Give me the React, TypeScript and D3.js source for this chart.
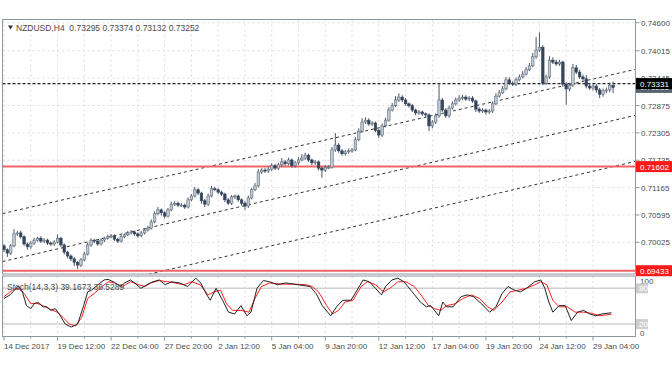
import React from "react";
import * as d3 from "d3";

// chart data
const symbolTitle = "NZDUSD,H4";
const lastOHLC = [0.73295, 0.73374, 0.73132, 0.73252];
const firstOpen = 0.6995;

// H4 closes, one per bar
const closes = [
  0.6987, 0.698, 0.6995, 0.702, 0.7022, 0.7014, 0.6999, 0.6993, 0.7001, 0.7007,
  0.7011, 0.7005, 0.7007, 0.7001, 0.6999, 0.7003, 0.7011, 0.6997, 0.6982, 0.6974,
  0.6968, 0.6961, 0.6955, 0.6966, 0.6978, 0.6997, 0.7007, 0.7005, 0.6999, 0.7007,
  0.7011, 0.7014, 0.7016, 0.7009, 0.7005, 0.7014, 0.7018, 0.7022, 0.7024, 0.702,
  0.7016, 0.7022, 0.7028, 0.7032, 0.7045, 0.7062, 0.707, 0.7064, 0.7057, 0.707,
  0.7082, 0.7084, 0.708, 0.708, 0.7076, 0.7091, 0.7099, 0.7112, 0.7105, 0.7089,
  0.7082, 0.7099, 0.7114, 0.7112, 0.7107, 0.7103, 0.7091, 0.7084, 0.7097, 0.7099,
  0.7091, 0.7084, 0.7078, 0.7095, 0.7112, 0.712, 0.7149, 0.7153, 0.7151, 0.7155,
  0.7162, 0.7157, 0.7164, 0.717, 0.7166, 0.7174, 0.7162, 0.7168, 0.7174, 0.7178,
  0.7184, 0.7174, 0.7168, 0.717, 0.7157, 0.7153, 0.7159, 0.7159, 0.7195, 0.7205,
  0.7193, 0.7187, 0.7191, 0.7193, 0.7195, 0.7216, 0.7234, 0.7253, 0.7257, 0.7249,
  0.7251, 0.7236, 0.7226, 0.7245, 0.7257, 0.7278, 0.7287, 0.7299, 0.7305, 0.7299,
  0.7291, 0.7287, 0.7278, 0.7272, 0.7274, 0.727, 0.7268, 0.7245, 0.7253, 0.7266,
  0.7299, 0.7278, 0.7266, 0.7282, 0.7291, 0.7299, 0.7303, 0.7305, 0.7301, 0.7303,
  0.7297, 0.728, 0.7276, 0.7278, 0.7274, 0.7276, 0.7291, 0.7307, 0.7314, 0.7322,
  0.7341, 0.7334, 0.7332, 0.7341, 0.7347, 0.7353, 0.7362, 0.737, 0.7389, 0.7403,
  0.7409, 0.7334, 0.7347, 0.7382, 0.7378, 0.7374, 0.7378, 0.7332, 0.7322, 0.733,
  0.7366, 0.7357, 0.7347, 0.7343, 0.7328, 0.7324, 0.7328, 0.732, 0.7311, 0.7318,
  0.732, 0.73295, 0.73252,
];

// upper / lower shadows in pips beyond the body
const wickHi = [
  4, 3, 4, 10, 4, 5, 3, 3, 4, 5, 3, 4, 4, 3, 3, 4, 8, 3, 3, 3,
  3, 4, 3, 4, 5, 5, 4, 3, 3, 4, 3, 4, 4, 3, 3, 4, 3, 4, 4, 3,
  3, 4, 4, 5, 5, 5, 6, 3, 3, 4, 5, 4, 3, 4, 3, 5, 4, 6, 3, 3,
  4, 5, 6, 4, 3, 3, 3, 4, 4, 3, 3, 3, 4, 5, 4, 6, 6, 4, 4, 4,
  5, 4, 4, 8, 4, 5, 3, 4, 6, 8, 5, 3, 3, 4, 3, 3, 4, 4, 6, 25,
  4, 4, 4, 5, 4, 6, 6, 8, 6, 4, 4, 3, 3, 5, 5, 6, 6, 8, 8, 4,
  4, 3, 4, 3, 4, 3, 3, 3, 4, 5, 35, 4, 4, 5, 5, 5, 6, 5, 4, 4,
  4, 3, 4, 4, 3, 4, 5, 6, 6, 6, 6, 5, 4, 5, 5, 6, 6, 6, 8, 27,
  31, 4, 5, 8, 6, 5, 5, 3, 4, 5, 8, 6, 5, 5, 8, 5, 4, 4, 4, 5,
  5, 6, 8,
];
const wickLo = [
  5, 8, 4, 3, 4, 4, 4, 6, 4, 4, 3, 4, 4, 4, 4, 4, 3, 4, 5, 5,
  5, 8, 8, 4, 3, 3, 4, 4, 4, 3, 4, 3, 3, 4, 4, 3, 3, 3, 3, 4,
  4, 3, 3, 3, 3, 3, 3, 6, 5, 3, 3, 4, 4, 4, 4, 3, 3, 3, 4, 6,
  6, 4, 3, 3, 4, 4, 5, 4, 4, 4, 4, 5, 8, 4, 3, 3, 3, 4, 4, 4,
  4, 4, 4, 4, 4, 3, 4, 4, 4, 3, 4, 4, 5, 4, 5, 16, 4, 4, 3, 4,
  4, 4, 4, 4, 4, 3, 3, 3, 4, 4, 4, 4, 6, 4, 3, 3, 3, 3, 4, 4,
  4, 4, 4, 5, 4, 4, 4, 11, 5, 4, 4, 4, 4, 4, 3, 4, 4, 4, 4, 4,
  4, 6, 4, 4, 5, 4, 4, 3, 3, 3, 3, 4, 4, 4, 3, 3, 3, 3, 3, 4,
  4, 4, 4, 4, 4, 4, 4, 6, 33, 5, 4, 4, 4, 4, 5, 4, 5, 6, 8, 5,
  5, 5, 12,
];

const priceTicks = [0.746, 0.74015, 0.73445, 0.72875, 0.72305, 0.71735, 0.71165, 0.70595, 0.70025];
const timeLabels = [
  "14 Dec 2017", "19 Dec 12:00", "22 Dec 04:00", "27 Dec 20:00", "2 Jan 12:00", "5 Jan 04:00",
  "9 Jan 20:00", "12 Jan 12:00", "17 Jan 04:00", "19 Jan 20:00", "24 Jan 12:00", "29 Jan 04:00",
];
const barsPerLabel = 16;

const hLine = 0.73331;
const bidPrice = 0.73252;
const redLevels = [0.71602, 0.69433];

// trend channel: [bar, price] anchors
const channel = [
  [[0, 0.7063], [180, 0.7349]],
  [[0, 0.6963], [180, 0.7253]],
  [[0, 0.6866], [180, 0.7157]],
];

// Stochastic(14,3,3): [bar, value]
const stochK = [
  [0, 63], [1.8, 69], [4.3, 84], [5.5, 74], [6.7, 51], [8, 46], [9.2, 55], [10.4, 56], [11.6, 49],
  [12.8, 49], [14, 43], [15.3, 46], [16.5, 37], [18.3, 20], [20.1, 15], [22, 20], [23.8, 51], [25, 74],
  [26.2, 77], [28.1, 86], [29.9, 94], [31.1, 95], [33, 90], [34.8, 83], [36, 89], [37.8, 94], [39.7, 86],
  [40.9, 80], [42.7, 86], [44.5, 91], [46.4, 94], [48.2, 86], [50, 91], [52.5, 89], [54.9, 83], [57.3, 97],
  [58.8, 89], [60.4, 71], [61.6, 60], [63.4, 80], [65.3, 60], [67.1, 40], [68.9, 37], [70.8, 51], [72.6, 34],
  [73.8, 40], [75.6, 80], [77.5, 93], [79.3, 91], [81.7, 86], [84.2, 89], [87.8, 86], [91.5, 83], [93.3, 71],
  [95.1, 51], [97.6, 34], [99.4, 49], [101.2, 60], [103.7, 60], [105.5, 77], [107.3, 94], [109.2, 91],
  [111, 80], [112.8, 69], [114, 83], [115.9, 94], [117.7, 97], [119.5, 91], [122, 74], [124.4, 57],
  [126.2, 49], [127.5, 51], [129.9, 34], [131.1, 57], [132.3, 49], [134.2, 49], [136.6, 66], [138.4, 69],
  [140.3, 66], [142.7, 54], [145.1, 40], [147, 49], [148.8, 71], [150.6, 83], [152.5, 77], [154.3, 74],
  [156.1, 80], [158.6, 91], [160.4, 94], [161.6, 80], [162.8, 57], [164, 40], [165.9, 51], [167.7, 51],
  [169.5, 26], [171.4, 40], [173.2, 43], [175, 37], [176.8, 34], [178.7, 37], [181.5, 39],
];
const stochD = [
  [0, 66], [2.5, 77], [4.3, 80], [6.1, 71], [8, 54], [9.8, 55], [11.6, 51], [13.4, 46], [15.9, 40],
  [17.7, 31], [19.5, 20], [21.4, 17], [23.2, 31], [25, 63], [26.9, 71], [29.3, 83], [31.1, 91], [33, 89],
  [35.4, 83], [37.8, 91], [40.3, 86], [42.1, 83], [43.9, 89], [46.4, 93], [48.8, 91], [51.2, 89], [53.7, 86],
  [56.1, 91], [58.6, 86], [61, 69], [62.8, 74], [64.7, 77], [66.5, 54], [68.3, 43], [70.8, 43], [73.2, 40],
  [75, 63], [76.9, 83], [79.3, 89], [83, 87], [86.6, 87], [90.3, 86], [92.1, 83], [94, 74], [96.4, 51],
  [98.2, 37], [100, 43], [101.9, 57], [104.3, 60], [106.7, 83], [108.6, 91], [111, 86], [113.4, 74],
  [115.3, 80], [117.7, 91], [120.1, 91], [122.6, 83], [125, 66], [126.8, 51], [128.7, 46], [130.5, 43],
  [132.3, 51], [134.8, 54], [137.2, 63], [139.7, 69], [142.1, 63], [144.5, 49], [146.4, 43], [148.8, 57],
  [151.2, 74], [153.7, 77], [156.1, 80], [158.6, 86], [160.4, 91], [162.2, 86], [164, 60], [165.9, 49],
  [168.3, 49], [170.7, 40], [173.2, 40], [175.6, 38], [178.1, 34], [181.5, 36.5],
];
const stochLevels = [80, 20];
const stochTitle = "Stoch(14,3,3) 39.1673 36.5289";

const W = 672;
const H = 372;
const left = 2.5;
const right = 635.5;
const mainTop = 19.5;
const mainBottom = 274;
const subTop = 276;
const subBottom = 336.5;
const font = "Liberation Sans, Arial, sans-serif";
const textColor = "#4a4a4a";

const App = () => {
  const x = d3.scaleLinear().domain([0, 176]).range([4, 593]);
  const y = d3.scaleLinear().domain([0.70025, 0.746]).range([242.3, 22.7]);
  const ys = d3.scaleLinear().domain([0, 100]).range([336, 276.4]);
  const bw = (x(1) - x(0)) * 0.75;

  const candles = closes.map((c, i) => {
    const o = i === 0 ? firstOpen : closes[i - 1];
    const hi = Math.max(o, c) + wickHi[i] * 0.0001;
    const lo = Math.min(o, c) - wickLo[i] * 0.0001;
    return { i, o, c, hi, lo };
  });

  const gridBars = d3.range(0, closes.length, barsPerLabel / 2);

  const stochLine = d3
    .line<number[]>()
    .x((d) => x(d[0]))
    .y((d) => ys(d[1]));

  const iLeft = x.invert(left);
  const iRight = x.invert(right);
  const chanAt = (seg: number[][], i: number) =>
    seg[0][1] + ((seg[1][1] - seg[0][1]) * (i - seg[0][0])) / (seg[1][0] - seg[0][0]);

  const priceBox = (p: number, bg: string, key: string) => (
    <g key={key}>
      <rect x={636} y={y(p) - 5.5} width={36} height={11} fill={bg} />
      <text x={640} y={y(p) + 3} fill="#fff" fontSize={8} fontFamily={font}>
        {p.toFixed(5)}
      </text>
    </g>
  );

  return (
    <svg
      width={W}
      height={H}
      style={{ position: "fixed", left: 0, top: 0, background: "#fff" }}
    >
      <defs>
        <clipPath id="mainClip">
          <rect x={left} y={mainTop} width={right - left} height={mainBottom - mainTop} />
        </clipPath>
        <clipPath id="subClip">
          <rect x={left} y={subTop} width={right - left} height={subBottom - subTop} />
        </clipPath>
      </defs>

      {/* grid */}
      {gridBars.map((b) => (
        <g key={"vg" + b}>
          <line x1={x(b)} x2={x(b)} y1={mainTop} y2={mainBottom} stroke="#dcdcdc" strokeDasharray="2,3" />
          <line x1={x(b)} x2={x(b)} y1={subTop} y2={subBottom} stroke="#dcdcdc" strokeDasharray="2,3" />
        </g>
      ))}
      {priceTicks.map((p) => (
        <line key={"hg" + p} x1={left} x2={right} y1={y(p)} y2={y(p)} stroke="#dcdcdc" strokeDasharray="2,3" />
      ))}

      {/* main panel */}
      <g clipPath="url(#mainClip)">
        {channel.map((seg, k) => (
          <line
            key={"ch" + k}
            x1={left}
            x2={right}
            y1={y(chanAt(seg, iLeft))}
            y2={y(chanAt(seg, iRight))}
            stroke="#333"
            strokeWidth={1}
            strokeDasharray="3,3"
          />
        ))}
        <line x1={left} x2={right} y1={y(hLine)} y2={y(hLine)} stroke="#222" strokeWidth={1.2} strokeDasharray="3,2" />
        {redLevels.map((p) => (
          <line key={"rl" + p} x1={left} x2={right} y1={y(p)} y2={y(p)} stroke="#f06464" strokeWidth={2} />
        ))}
        {candles.map((d) => {
          const up = d.c >= d.o;
          const top = y(Math.max(d.o, d.c));
          const h = Math.max(1, Math.abs(y(d.o) - y(d.c)));
          return (
            <g key={"c" + d.i}>
              <line x1={x(d.i)} x2={x(d.i)} y1={y(d.hi)} y2={y(d.lo)} stroke="#4b5868" strokeWidth={1} />
              <rect
                x={x(d.i) - bw / 2}
                y={top}
                width={bw}
                height={h}
                fill={up ? "#c4cbd3" : "#34445a"}
                stroke={up ? "#5b6979" : "#34445a"}
                strokeWidth={0.6}
              />
            </g>
          );
        })}
      </g>

      {/* header */}
      <path d="M8,25.5 L13,25.5 L10.5,29.5 Z" fill="#333" />
      <text x={16} y={31} fontSize={8.5} fontFamily={font} fill={textColor} style={{ whiteSpace: "pre" }}>
        {symbolTitle + "  " + lastOHLC.map((v) => v.toFixed(5)).join(" ")}
      </text>

      {/* stochastic panel */}
      <g clipPath="url(#subClip)">
        {stochLevels.map((lv) => (
          <line key={"lv" + lv} x1={left} x2={right} y1={ys(lv)} y2={ys(lv)} stroke="#cfcfcf" strokeWidth={1.5} />
        ))}
        <path d={stochLine(stochD) || ""} fill="none" stroke="#ff2020" strokeWidth={1} />
        <path d={stochLine(stochK) || ""} fill="none" stroke="#222" strokeWidth={1} />
      </g>
      <text x={7} y={290} fontSize={8.5} fontFamily={font} fill={textColor}>
        {stochTitle}
      </text>

      {/* frames */}
      <rect x={left} y={mainTop} width={right - left} height={mainBottom - mainTop} fill="none" stroke="#8f979f" />
      <rect x={left} y={subTop} width={right - left} height={subBottom - subTop} fill="none" stroke="#8f979f" />

      {/* right price axis */}
      {priceTicks.map((p) => (
        <g key={"pt" + p}>
          <line x1={right} x2={right + 4} y1={y(p)} y2={y(p)} stroke="#8f979f" />
          <text x={641} y={y(p) + 3} fontSize={8} fontFamily={font} fill={textColor}>
            {p.toFixed(5)}
          </text>
        </g>
      ))}
      {priceBox(bidPrice, "#56626e", "bid")}
      {priceBox(hLine, "#000", "hl")}
      {redLevels.map((p) => priceBox(p, "#ff1a1a", "rb" + p))}

      {/* stochastic axis */}
      <text x={640} y={284} fontSize={8} fontFamily={font} fill={textColor}>100</text>
      {stochLevels.map((lv) => (
        <g key={"sl" + lv}>
          <rect x={636} y={ys(lv) - 5} width={12} height={10} fill="#cfcfcf" />
          <text x={639} y={ys(lv) + 3} fontSize={8} fontFamily={font} fill="#fff">{lv}</text>
        </g>
      ))}
      <text x={640} y={336} fontSize={8} fontFamily={font} fill={textColor}>0</text>

      {/* time axis */}
      {gridBars.map((b) => (
        <line
          key={"tt" + b}
          x1={x(b)}
          x2={x(b)}
          y1={subBottom}
          y2={subBottom + (b % barsPerLabel === 0 ? 4 : 2)}
          stroke="#8f979f"
        />
      ))}
      {timeLabels.map((t, k) => (
        <text key={t} x={x(k * barsPerLabel)} y={349} fontSize={8} fontFamily={font} fill={textColor}>
          {t}
        </text>
      ))}
    </svg>
  );
};

export default App;
